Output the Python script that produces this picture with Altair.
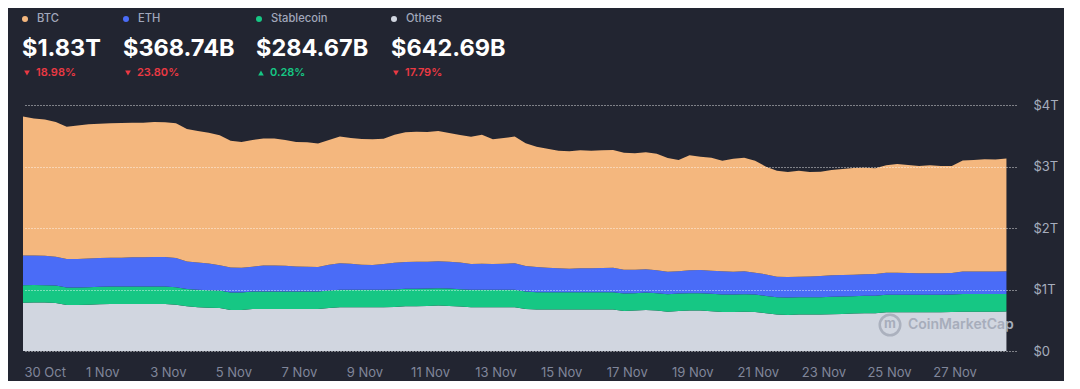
import altair as alt
import pandas as pd

# ---------------- data (market cap in billions USD, 8-hour steps) ----------------
START = "2025-10-29 14:00"
STEP = "8h"

BTC = [2259, 2228, 2217, 2190, 2152, 2173, 2179, 2184, 2184, 2190,
       2190, 2190, 2195, 2190, 2190, 2152, 2135, 2125, 2114, 2060,
       2043, 2060, 2065, 2065, 2043, 2022, 2022, 2011, 2027, 2060,
       2043, 2043, 2043, 2038, 2081, 2108, 2114, 2108, 2119, 2092,
       2076, 2070, 2098, 2027, 2043, 2060, 1995, 1957, 1935, 1913,
       1908, 1919, 1913, 1913, 1913, 1902, 1892, 1902, 1897, 1848,
       1810, 1870, 1843, 1837, 1799, 1837, 1848, 1821, 1751, 1724,
       1707, 1724, 1696, 1696, 1713, 1724, 1734, 1734, 1718, 1745,
       1767, 1756, 1745, 1756, 1745, 1740, 1805, 1816, 1827, 1821,
       1832]

ETH = [484, 479, 479, 469, 463, 463, 469, 469, 469, 469,
       474, 474, 479, 479, 474, 447, 447, 436, 414, 409,
       404, 404, 425, 425, 420, 409, 404, 398, 420, 431,
       425, 409, 404, 420, 436, 436, 441, 436, 436, 436,
       431, 420, 425, 420, 425, 431, 414, 409, 398, 387,
       382, 387, 387, 393, 398, 387, 382, 376, 371, 366,
       360, 371, 376, 376, 376, 371, 371, 355, 349, 333,
       333, 333, 338, 344, 349, 349, 349, 349, 355, 360,
       360, 355, 349, 349, 349, 349, 366, 366, 366, 366,
       369]

STABLE = [284, 284, 283, 283, 282, 282, 283, 283, 284, 284,
          284, 284, 284, 284, 284, 283, 283, 283, 282, 282,
          282, 283, 283, 283, 283, 283, 283, 283, 283, 284,
          284, 284, 284, 284, 284, 284, 284, 284, 284, 284,
          284, 284, 284, 284, 284, 284, 284, 284, 284, 284,
          284, 284, 284, 284, 284, 284, 284, 284, 284, 284,
          284, 284, 284, 284, 284, 284, 284, 284, 283, 283,
          283, 283, 283, 284, 284, 284, 284, 284, 284, 284,
          284, 284, 285, 285, 285, 285, 285, 285, 285, 285,
          285]

OTHERS = [785, 788, 787, 781, 749, 749, 754, 760, 765, 765,
          765, 765, 765, 765, 754, 727, 711, 705, 700, 668,
          668, 684, 684, 684, 684, 684, 684, 684, 700, 711,
          711, 711, 711, 711, 716, 727, 727, 733, 738, 733,
          722, 711, 711, 711, 711, 711, 684, 673, 673, 673,
          673, 673, 673, 673, 673, 651, 657, 668, 657, 640,
          651, 657, 657, 646, 635, 635, 640, 635, 613, 592,
          586, 592, 592, 592, 597, 602, 608, 613, 613, 630,
          630, 630, 630, 630, 630, 635, 640, 640, 640, 640,
          643]

SERIES = ["Others", "Stablecoin", "ETH", "BTC"]          # bottom -> top
COLORS = ["#d1d6e0", "#16c784", "#4a6cf7", "#f4b77e"]

# header texts
NAMES = ["BTC", "ETH", "Stablecoin", "Others"]
NAME_COLORS = ["#f4b77e", "#4a6cf7", "#16c784", "#d1d6e0"]
CAPS = ["$1.83T", "$368.74B", "$284.67B", "$642.69B"]
CHANGES = ["18.98%", "23.80%", "0.28%", "17.79%"]
UP = [False, False, True, False]

# axis ticks
TICK_DATES = [(10, 30), (11, 1), (11, 3), (11, 5), (11, 7), (11, 9), (11, 11), (11, 13),
              (11, 15), (11, 17), (11, 19), (11, 21), (11, 23), (11, 25), (11, 27)]
Y_TICKS = [0, 1000, 2000, 3000, 4000]

# ---------------- build table ----------------
times = pd.date_range(START, periods=len(BTC), freq=STEP)
rows = []
for order, (name, vals) in enumerate(zip(SERIES, [OTHERS, STABLE, ETH, BTC])):
    for t, v in zip(times, vals):
        rows.append({"time": t, "series": name, "value": v, "order": order})
df = pd.DataFrame(rows)

BG = "#222531"
FONT = "Inter"

x_axis = alt.Axis(
    values=[alt.DateTime(year=2025, month=m, date=d) for m, d in TICK_DATES],
    format="%-d %b", grid=False, domain=False, ticks=False, tickSize=0,
    labelPadding=15, labelColor="#80869a", labelFontSize=13, labelFont=FONT,
    labelOffset={"condition": {"test": "datum.value < datetime(2025, 9, 31)", "value": 8}, "value": 0},
    title=None,
)
y_axis = alt.Axis(
    orient="right", values=Y_TICKS,
    labelExpr="datum.value == 0 ? '$0' : '$' + datum.value / 1000 + 'T'",
    grid=True, gridDash=[1, 2], gridColor="#ffffff", gridOpacity=0.85, gridWidth=1,
    domain=False, ticks=False, tickSize=0, labelPadding=17, zindex=1,
    labelColor="#a6adbd", labelFontSize=13, labelFont=FONT, title=None,
)

x_scale = alt.Scale(domain=[alt.DateTime(year=2025, month=10, date=29, hours=14),
                            alt.DateTime(year=2025, month=11, date=28, hours=21)])

areas = alt.Chart(df).mark_area(interpolate="linear").encode(
    x=alt.X("time:T", scale=x_scale, axis=x_axis),
    y=alt.Y("value:Q", stack="zero", scale=alt.Scale(domain=[0, 4000], nice=False), axis=y_axis),
    color=alt.Color("series:N", scale=alt.Scale(domain=SERIES, range=COLORS), legend=None),
    order=alt.Order("order:Q"),
)

layers = [areas]

# watermark
one = pd.DataFrame({"k": [0]})
layers.append(alt.Chart(one).mark_point(shape="circle", filled=False, size=420, strokeWidth=2.5,
                                        color="#a7adbb", opacity=0.9)
              .encode(x=alt.value(867), y=alt.value(220)))
layers.append(alt.Chart(one).mark_text(text="m", font=FONT, fontSize=13, fontWeight="bold",
                                       color="#a7adbb", align="center", baseline="middle")
              .encode(x=alt.value(867), y=alt.value(219)))
layers.append(alt.Chart(one).mark_text(text="CoinMarketCap", font=FONT, fontSize=14, fontWeight=600,
                                       color="#a7adbb", align="left", baseline="middle", clip=True)
              .encode(x=alt.value(885), y=alt.value(220)))

# header
HEADER_X = [-1, 100, 233, 368]
for i in range(4):
    hx = HEADER_X[i]
    d = pd.DataFrame({"name": [NAMES[i]], "cap": [CAPS[i]], "chg": [CHANGES[i]]})
    base = alt.Chart(d)
    chg_color = "#16c784" if UP[i] else "#ea3943"
    layers.append(base.mark_point(shape="circle", filled=True, size=36, opacity=1,
                                  color=NAME_COLORS[i])
                  .encode(x=alt.value(hx + 3), y=alt.value(-86)))
    layers.append(base.mark_text(font=FONT, fontSize=11.2, fontWeight=500, color="#a1a7bb",
                                 align="left", baseline="middle")
                  .encode(text="name:N", x=alt.value(hx + 15), y=alt.value(-86)))
    layers.append(base.mark_text(font=FONT, fontSize=23.5, fontWeight="bold", color="#ffffff",
                                 align="left", baseline="alphabetic")
                  .encode(text="cap:N", x=alt.value(hx), y=alt.value(-49)))
    layers.append(base.mark_point(shape="triangle-up" if UP[i] else "triangle-down", filled=True,
                                  size=32, opacity=1, color=chg_color)
                  .encode(x=alt.value(hx + 5), y=alt.value(-32)))
    layers.append(base.mark_text(font=FONT, fontSize=11, fontWeight=600, color=chg_color,
                                 align="left", baseline="middle")
                  .encode(text="chg:N", x=alt.value(hx + 14), y=alt.value(-32)))

chart = alt.layer(*layers).properties(
    width=993, height=246,
    padding={"left": 15, "top": 97, "right": 48, "bottom": 30},
    autosize=alt.AutoSizeParams(type="none"),
    background=BG,
    usermeta={"embedOptions": {"defaultStyle": "body{background:#222531;}"}},
).configure_view(stroke=None)

chart.save("out.html", embed_options={"renderer": "svg", "actions": False})
